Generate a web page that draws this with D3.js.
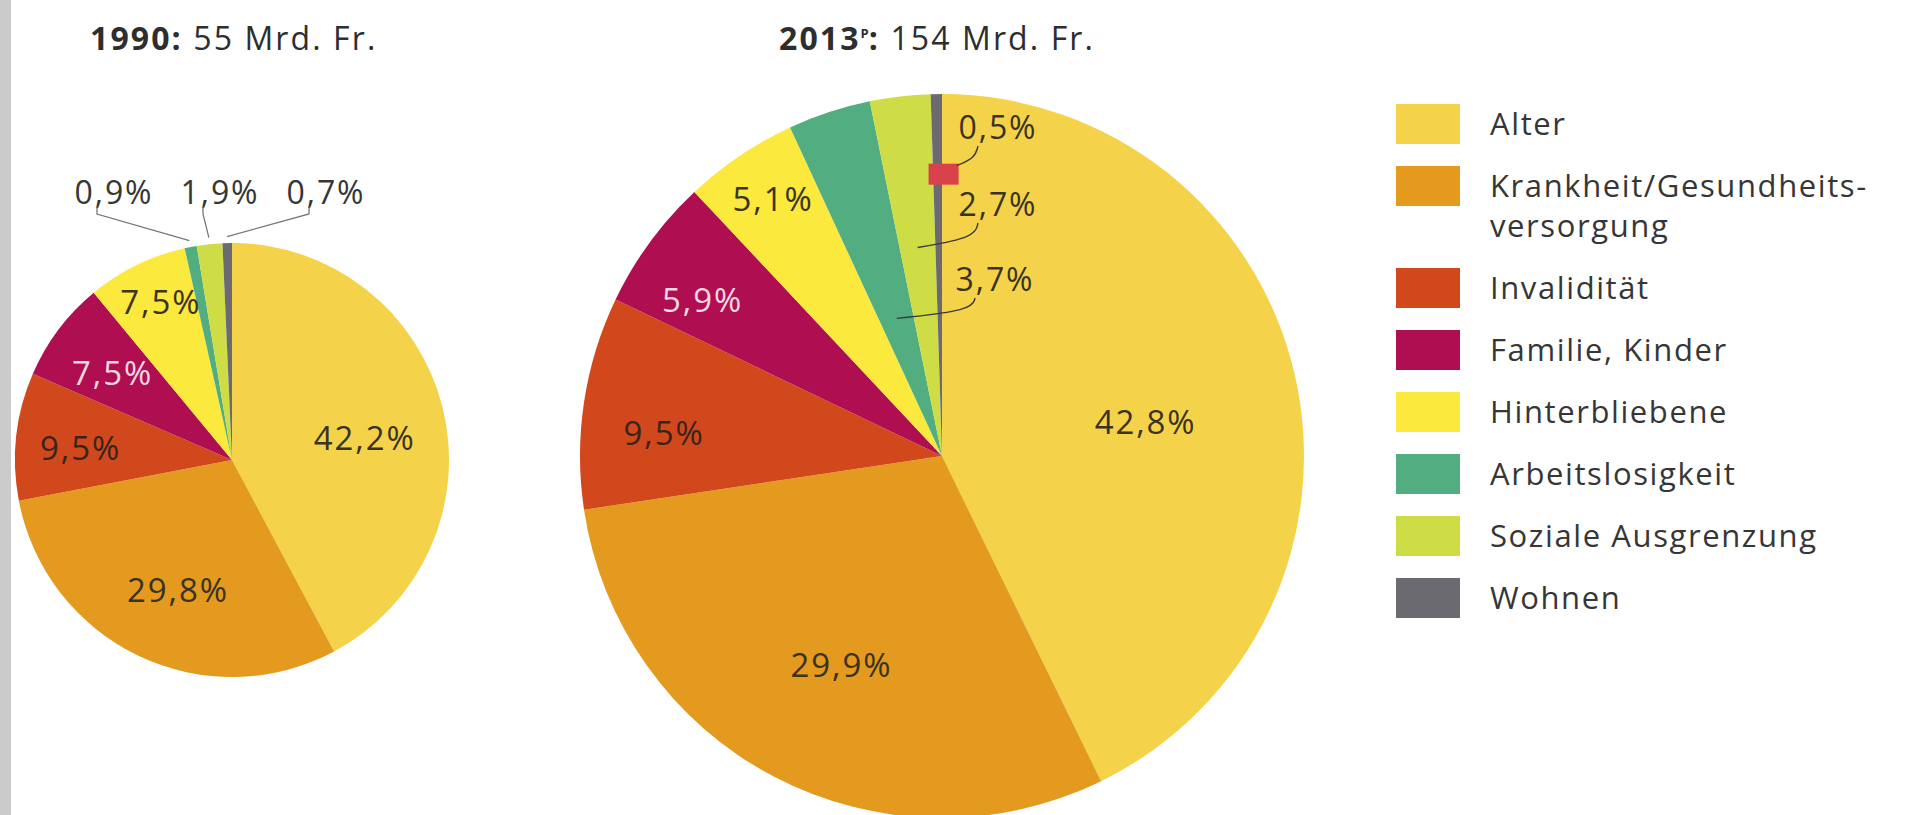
<!DOCTYPE html>
<html><head><meta charset="utf-8">
<script src="https://cdn.jsdelivr.net/npm/d3@7"></script>
<style>
html,body{margin:0;padding:0;background:#fff;}
svg{display:block;font-family:"Open Sans",sans-serif;}
</style></head><body>
<svg id="chart" width="1908" height="815"></svg>
<script>
// ---- data ----
const categories = ["Alter","Krankheit/Gesundheitsversorgung","Invalidität","Familie, Kinder","Hinterbliebene","Arbeitslosigkeit","Soziale Ausgrenzung","Wohnen"];
const legendLines = [["Alter"],["Krankheit/Gesundheits-","versorgung"],["Invalidität"],["Familie, Kinder"],["Hinterbliebene"],["Arbeitslosigkeit"],["Soziale Ausgrenzung"],["Wohnen"]];
const values1990 = [42.2, 29.8, 9.5, 7.5, 7.5, 0.9, 1.9, 0.7];
const values2013 = [42.8, 29.9, 9.5, 5.9, 5.1, 3.7, 2.7, 0.5];
const years = ["1990", "2013"];
const yearSuffix = ["", "P"];
const totals = [55, 154];
const unit = "Mrd. Fr.";

// ---- styles / layout ----
const colors = ["#f4d34b","#e39a1f","#d2481d","#af0e50","#fbe93e","#52ad80","#cedc45","#6a6a70"];
const labelColors = ["#3a3322","#3a3322","#3a2418","#f3d7e4","#3a3322"];
const textColor = "#363636";
const FS_T = 32, LS_T = 2.1;   // titles
const FS_P = 33, LS_P = 1.9;   // percentages
const FS_L = 31, LS_L = 1.6;   // legend

const svg = d3.select("#chart");
svg.append("rect").attr("x",0).attr("y",0).attr("width",1908).attr("height",815).attr("fill","#fff");
svg.append("rect").attr("x",0).attr("y",0).attr("width",11).attr("height",815).attr("fill","#cbcbcb");

const fmt = v => d3.format(".1f")(v).replace(".", ",") + "%";
const pie = d3.pie().sort(null).value(d => d);
const polar = (cx, cy, r, a) => [cx + r * Math.sin(a), cy - r * Math.cos(a)];
const deg = Math.PI / 180;

const charts = [
  { values: values1990, cx: 232, cy: 460, r: 217, titleX: 90,
    inner: [[0.62,4.5],[0.65,-3],[0.70,-1.8],[0.68,-0.9],[0.80,1.9]],
    callouts: "top" },
  { values: values2013, cx: 942, cy: 456, r: 362, titleX: 779,
    inner: [[0.57,3.7],[0.64,-2],[0.77,-3.9],[0.79,-3.1],[0.85,0.7]],
    callouts: "side" }
];

charts.forEach((c, ci) => {
  const arcs = pie(c.values);
  const arc = d3.arc().innerRadius(0).outerRadius(c.r);
  svg.append("g").attr("transform", `translate(${c.cx},${c.cy})`)
    .selectAll("path").data(arcs).join("path")
    .attr("d", arc).attr("fill", (d, i) => colors[i]);

  // title
  const t = svg.append("text").attr("x", c.titleX).attr("y", 50)
    .attr("font-size", FS_T).attr("letter-spacing", LS_T).attr("fill", "#2e2e2e");
  t.append("tspan").attr("font-weight", "bold").text(years[ci]);
  if (yearSuffix[ci]) {
    t.append("tspan").attr("font-weight","bold").attr("font-size", 13).attr("dy", -12).attr("letter-spacing", 0).text(yearSuffix[ci]);
    t.append("tspan").attr("font-weight","bold").attr("dy", 12).text(":");
  } else {
    t.append("tspan").attr("font-weight","bold").text(":");
  }
  t.append("tspan").text(" " + totals[ci] + " " + unit);

  // inner labels
  c.inner.forEach((lay, i) => {
    const a = (arcs[i].startAngle + arcs[i].endAngle) / 2 + lay[1] * deg;
    const [x, y] = polar(c.cx, c.cy, c.r * lay[0], a);
    svg.append("text").attr("x", x).attr("y", y).attr("dy", "0.36em")
      .attr("text-anchor", "middle").attr("font-size", FS_P).attr("letter-spacing", LS_P)
      .attr("fill", labelColors[i]).text(fmt(c.values[i]));
  });

  const line = d3.line();
  if (c.callouts === "top") {
    const offs = [-118, -12, 94];
    [5, 6, 7].forEach((idx, k) => {
      const lx = c.cx + offs[k], ly = c.cy - 268;
      svg.append("text").attr("x", lx).attr("y", ly).attr("dy", "0.36em")
        .attr("text-anchor", "middle").attr("font-size", FS_P - 1).attr("letter-spacing", LS_P)
        .attr("fill", textColor).text(fmt(c.values[idx]));
      const a = (arcs[idx].startAngle + arcs[idx].endAngle) / 2;
      const end = polar(c.cx, c.cy, c.r * 1.03, a);
      svg.append("path").attr("d", line([[lx - 17, ly + 15], [lx - 17, ly + 22], end]))
        .attr("fill", "none").attr("stroke", "#777").attr("stroke-width", 1.3);
    });
  } else {
    const lab = [[7, 56, -329, 0.78], [6, 56, -252, 0.58], [5, 53, -177, 0.40]];
    const curve = d3.line().curve(d3.curveBasis);
    lab.forEach(([idx, dx, dy, rf]) => {
      const lx = c.cx + dx, ly = c.cy + dy;
      const a = (arcs[idx].startAngle + arcs[idx].endAngle) / 2;
      let end = polar(c.cx, c.cy, c.r * rf, a);
      if (idx === 7) {
        end = [end[0] + 6, end[1]];
        svg.append("rect").attr("x", end[0] - 15).attr("y", end[1] - 10)
          .attr("width", 30).attr("height", 21).attr("fill", "#d9414b");
        end = [end[0] + 13, end[1] - 8];
      }
      svg.append("text").attr("x", lx).attr("y", ly).attr("dy", "0.36em")
        .attr("text-anchor", "middle").attr("font-size", FS_P - 1).attr("letter-spacing", LS_P)
        .attr("fill", "#3a3322").text(fmt(c.values[idx]));
      const s = [lx - 20, ly + 19];
      const m = [s[0] - 3, s[1] + (end[1] - s[1]) * 0.6];
      svg.append("path").attr("d", curve([s, m, end]))
        .attr("fill", "none").attr("stroke", "#3a3a3a").attr("stroke-width", 1.4);
    });
  }
});

// legend
const lg = svg.append("g");
let y = 124;
legendLines.forEach((lines, i) => {
  lg.append("rect").attr("x", 1396).attr("y", y - 20).attr("width", 64).attr("height", 40)
    .attr("fill", colors[i]);
  lines.forEach((txt, j) => {
    lg.append("text").attr("x", 1490).attr("y", y + 11 + j * 40)
      .attr("font-size", FS_L).attr("letter-spacing", LS_L).attr("fill", textColor).text(txt);
  });
  y += 62 + (lines.length - 1) * 40;
});
</script>
</body></html>
